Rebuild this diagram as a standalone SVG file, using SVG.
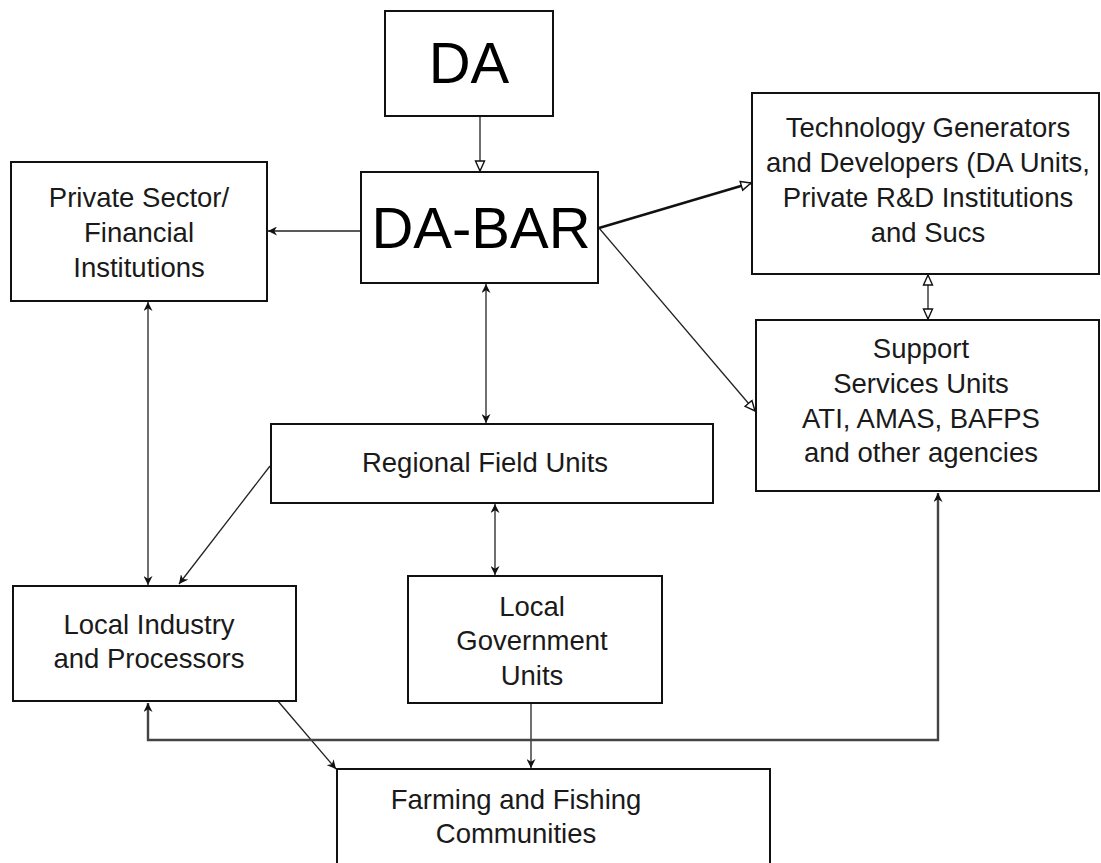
<svg xmlns="http://www.w3.org/2000/svg" width="1101" height="863" viewBox="0 0 1101 863">
<style>
.box{fill:#fff;stroke:#111;stroke-width:2}
.t{font-family:"Liberation Sans",Arial,sans-serif;font-size:27.5px;fill:#1a1a1a;text-anchor:middle}
.big{font-family:"Liberation Sans",Arial,sans-serif;font-size:58px;fill:#000;text-anchor:middle}
.c{fill:none;stroke:#222;stroke-width:1.3}
.thick{fill:none;stroke:#111;stroke-width:2.4}
.gray{fill:none;stroke:#444;stroke-width:2.4}
</style>
<defs>
<marker id="fa" viewBox="0 0 10 10" refX="10" refY="5" markerWidth="9" markerHeight="9" markerUnits="userSpaceOnUse" orient="auto-start-reverse">
<path d="M0,0 L10,5 L0,10 L3,5 Z" fill="#111"/>
</marker>
<marker id="oa" viewBox="0 0 12 12" refX="11" refY="6" markerWidth="12" markerHeight="12" markerUnits="userSpaceOnUse" orient="auto-start-reverse">
<path d="M1,1.5 L11,6 L1,10.5 Z" fill="#fff" stroke="#111" stroke-width="1.4"/>
</marker>
</defs>
<g id="connectors">
<line class="c" x1="480" y1="116" x2="480" y2="171" marker-end="url(#oa)"/>
<line class="c" x1="361" y1="231" x2="268" y2="231" marker-end="url(#fa)"/>
<line class="thick" x1="599" y1="228" x2="751" y2="183" marker-end="url(#oa)"/>
<line class="c" x1="599" y1="228" x2="755" y2="411" stroke-width="2" marker-end="url(#oa)"/>
<line class="c" x1="928" y1="275" x2="928" y2="319" marker-start="url(#oa)" marker-end="url(#oa)"/>
<line class="c" x1="486" y1="284" x2="486" y2="423" marker-start="url(#fa)" marker-end="url(#fa)"/>
<line class="c" x1="148" y1="302" x2="148" y2="585" marker-start="url(#fa)" marker-end="url(#fa)"/>
<line class="c" x1="270" y1="466" x2="179" y2="584" marker-end="url(#fa)"/>
<line class="c" x1="495" y1="504" x2="495" y2="575" marker-start="url(#fa)" marker-end="url(#fa)"/>
<line class="c" x1="531" y1="704" x2="531" y2="768" marker-end="url(#fa)"/>
<line class="c" x1="277" y1="700" x2="336" y2="769" marker-end="url(#fa)"/>
<polyline class="gray" points="148,703 148,740 938,740 938,493" marker-start="url(#fa)" marker-end="url(#fa)"/>
</g>
<g id="n-da">
<rect class="box" x="385" y="11" width="168" height="105"/>
<text class="big" x="469" y="83">DA</text>
</g>
<g id="n-dabar">
<rect class="box" x="361" y="172" width="237" height="111"/>
<text class="big" x="481" y="248">DA-BAR</text>
</g>
<g id="n-private">
<rect class="box" x="11" y="162" width="256" height="139"/>
<text class="t" x="139" y="207">Private Sector/</text>
<text class="t" x="139" y="242">Financial</text>
<text class="t" x="139" y="277">Institutions</text>
</g>
<g id="n-tech">
<rect class="box" x="752" y="93" width="347" height="181"/>
<text class="t" x="928" y="137">Technology Generators</text>
<text class="t" x="928" y="172">and Developers (DA Units,</text>
<text class="t" x="928" y="207">Private R&amp;D Institutions</text>
<text class="t" x="928" y="242">and Sucs</text>
</g>
<g id="n-support">
<rect class="box" x="756" y="320" width="343" height="171"/>
<text class="t" x="921" y="358">Support</text>
<text class="t" x="921" y="393">Services Units</text>
<text class="t" x="921" y="428">ATI, AMAS, BAFPS</text>
<text class="t" x="921" y="462">and other agencies</text>
</g>
<g id="n-regional">
<rect class="box" x="271" y="424" width="442" height="79"/>
<text class="t" x="485" y="472">Regional Field Units</text>
</g>
<g id="n-industry">
<rect class="box" x="13" y="586" width="283" height="115"/>
<text class="t" x="149" y="634">Local Industry</text>
<text class="t" x="149" y="668">and Processors</text>
</g>
<g id="n-lgu">
<rect class="box" x="408" y="576" width="254" height="127"/>
<text class="t" x="532" y="616">Local</text>
<text class="t" x="532" y="650">Government</text>
<text class="t" x="532" y="685">Units</text>
</g>
<g id="n-farming">
<rect class="box" x="337" y="769" width="433" height="110"/>
<text class="t" x="516" y="809">Farming and Fishing</text>
<text class="t" x="516" y="843">Communities</text>
</g>
</svg>
